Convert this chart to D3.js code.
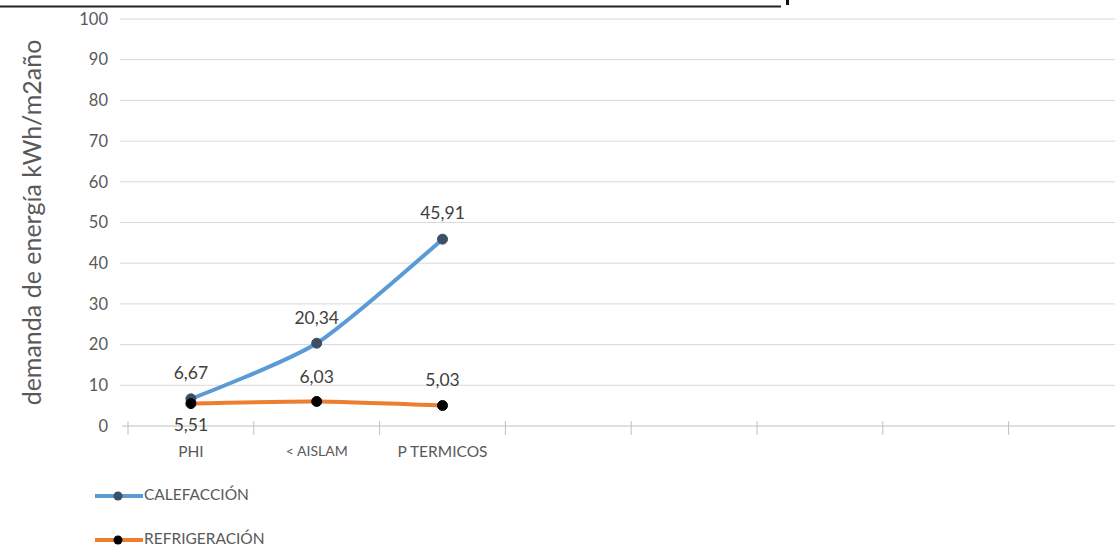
<!DOCTYPE html>
<html><head><meta charset="utf-8">
<script src="https://cdn.jsdelivr.net/npm/d3@7"></script>
<style>
html,body{margin:0;padding:0;background:#fff;}
svg{display:block;font-family:Lato, "Open Sans", sans-serif;}
</style></head>
<body>
<svg id="chart" width="1115" height="557"></svg>
<script>
const categories = ["PHI", "< AISLAM", "P TERMICOS", "", " ", "  ", "   ", "    "];
const calefaccion = [6.67, 20.34, 45.91];
const refrigeracion = [5.51, 6.03, 5.03];
const yTicks = [0,10,20,30,40,50,60,70,80,90,100];
const seriesNames = ["CALEFACCIÓN", "REFRIGERACIÓN"];

const svg = d3.select("#chart");
const W = 1115, H = 557;
const left = 128, bandW = 125.8;
const x = d3.scaleBand().domain(categories).range([left, left + bandW*categories.length]).paddingInner(0).paddingOuter(0);
const y = d3.scaleLinear().domain([0,100]).range([426, 19]);

// scan artifact line at top
svg.append("line").attr("x1",0).attr("x2",781).attr("y1",6.5).attr("y2",6.5).attr("stroke","#222").attr("stroke-width",2);
svg.append("rect").attr("x",786).attr("y",0).attr("width",3).attr("height",5).attr("fill","#111");

// gridlines
const grid = svg.append("g");
grid.selectAll("line").data(yTicks.filter(d=>d>0)).join("line")
  .attr("x1",120).attr("x2",W).attr("y1",d=>y(d)).attr("y2",d=>y(d))
  .attr("stroke","#d9d9d9").attr("stroke-width",1);

// x axis
const xAxis = d3.axisBottom(x).tickSize(0).tickFormat(d=>d.trim());
const gx = svg.append("g").attr("transform",`translate(0,${y(0)})`).call(xAxis);
gx.select(".domain").attr("stroke","#bfbfbf").attr("d",`M122,0H${W}`);
gx.selectAll("text").attr("fill","#595959").attr("font-size",d=>d==="< AISLAM"?14:15.5).attr("y",26).attr("dy","0.32em").attr("font-family","Lato, sans-serif");
// category boundary ticks
svg.append("g").selectAll("line").data(categories).join("line")
  .attr("x1",d=>x(d)).attr("x2",d=>x(d)).attr("y1",y(0)-5).attr("y2",y(0)+9)
  .attr("stroke","#bfbfbf");

// y axis labels
const yAxis = d3.axisLeft(y).tickValues(yTicks).tickSize(0).tickPadding(0);
const gy = svg.append("g").attr("transform",`translate(108,0)`).call(yAxis);
gy.select(".domain").remove();
gy.selectAll("text").attr("fill","#595959").attr("font-size",16.5).attr("font-family","Lato, sans-serif");

// y title
svg.append("text").attr("transform",`translate(41,${(y(0)+y(100))/2}) rotate(-90)`)
  .attr("text-anchor","middle").attr("fill","#595959").attr("font-size",25)
  .attr("font-family","Lato, sans-serif")
  .text("demanda de energía kWh/m2año");

const cx = (i)=> x(categories[i]) + x.bandwidth()/2;
const line = d3.line().x((d,i)=>cx(i)).y(d=>y(d)).curve(d3.curveCardinal.tension(0.3));

const series = [
  {name: seriesNames[0], values: calefaccion, color:"#5b9bd5", marker:"#3d4f66", labelDy:[-24,-24,-25]},
  {name: seriesNames[1], values: refrigeracion, color:"#ed7d31", marker:"#000", labelDy:[23,-23,-24]}
];

series.forEach(s=>{
  svg.append("path").attr("d",line(s.values)).attr("fill","none")
    .attr("stroke",s.color).attr("stroke-width",4).attr("stroke-linecap","round");
});
series.forEach(s=>{
  svg.append("g").selectAll("circle").data(s.values).join("circle")
    .attr("cx",(d,i)=>cx(i)).attr("cy",d=>y(d)).attr("r",5)
    .attr("fill",s.marker).attr("stroke",s.marker);
  svg.append("g").selectAll("text").data(s.values).join("text")
    .attr("x",(d,i)=>cx(i)).attr("y",(d,i)=>y(d)+s.labelDy[i])
    .attr("text-anchor","middle").attr("fill","#404040").attr("font-size",17.5)
    .attr("font-family","Lato, sans-serif").attr("dominant-baseline","middle")
    .text(d=>d3.format(".2f")(d).replace(".",","));
});

// legend
const legY = [496, 540];
series.forEach((s,i)=>{
  const g = svg.append("g").attr("transform",`translate(95,${legY[i]})`);
  g.append("line").attr("x1",0).attr("x2",48).attr("y1",0).attr("y2",0).attr("stroke",s.color).attr("stroke-width",4);
  g.append("circle").attr("cx",23).attr("cy",0).attr("r",4.5).attr("fill",s.marker);
  g.append("text").attr("x",49).attr("y",0).attr("dominant-baseline","middle")
    .attr("fill","#595959").attr("font-size",15.5).attr("font-family","Lato, sans-serif").text(s.name);
});
</script>
</body></html>
